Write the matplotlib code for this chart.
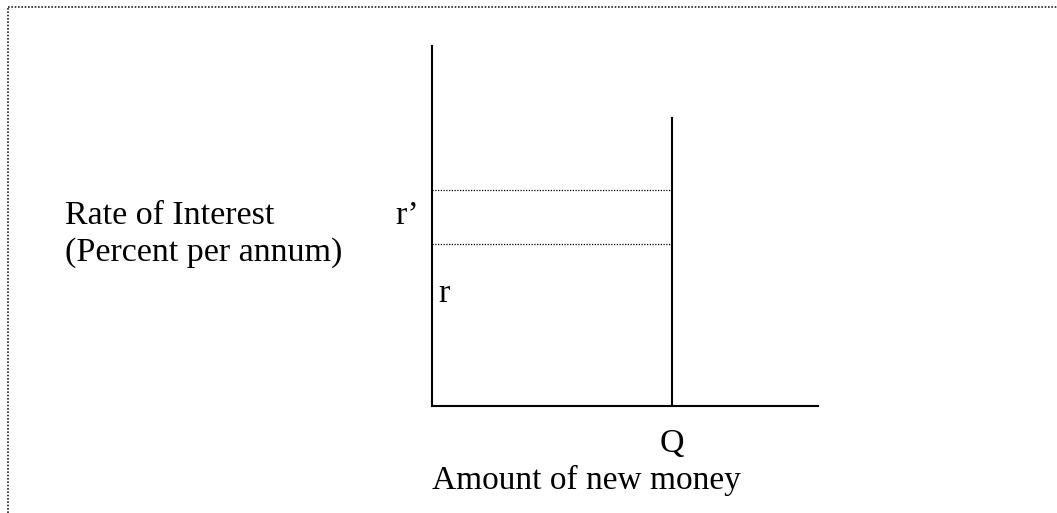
import matplotlib
matplotlib.use("Agg")
import matplotlib.pyplot as plt
from matplotlib.lines import Line2D

# diagram values (data units, origin at the axes corner)
y_axis_top = 10.0
x_axis_end = 10.72
Q = 6.67
supply_top = 8.0
r_prime = 6.0
r_level = 4.5
labels = {"y1": "Rate of Interest", "y2": "(Percent per annum)", "x": "Amount of new money",
          "q": "Q", "r": "r", "rp": "r\u2019"}

W, H, dpi = 1057, 513, 100
scale = 36.0  # px per unit
ox, oy = 432, 406  # pixel position of origin

plt.rcParams['font.family'] = ['Liberation Serif', 'DejaVu Serif']
fig = plt.figure(figsize=(W / dpi, H / dpi), dpi=dpi)
ax = fig.add_axes([0, 0, 1, 1])
ax.set_xlim(-ox / scale, (W - ox) / scale)
ax.set_ylim(-(H - oy) / scale, oy / scale)
ax.axis('off')

# axes of the diagram
ax.plot([0, 0], [0, y_axis_top], color='black', lw=1.5)
ax.plot([0, x_axis_end], [0, 0], color='black', lw=1.5)
# vertical supply of new money at Q
ax.plot([Q, Q], [0, supply_top], color='black', lw=1.5)
# dotted levels
for lvl in [r_prime, r_level]:
    ax.plot([0, Q], [lvl, lvl], color='black', lw=0.9, ls=(0, (1, 1.2)))

fs = 24.5
ax.text(-10.19, 5.05, labels["y1"], fontsize=fs, ha='left', va='baseline')
ax.text(-10.19, 4.03, labels["y2"], fontsize=fs, ha='left', va='baseline')
ax.text(-37 / scale, 5.05, labels["rp"], fontsize=fs, ha='left', va='baseline')
ax.text(6 / scale, 2.9, labels["r"], fontsize=fs, ha='left', va='baseline')
ax.text(Q, -1.27, labels["q"], fontsize=fs, ha='center', va='baseline')
ax.text(0, -2.3, labels["x"], fontsize=24, ha='left', va='baseline')

# dotted page border (top and left only visible)
fig.add_artist(Line2D([8 / W, 1], [1 - 7 / H, 1 - 7 / H], transform=fig.transFigure,
                      color='#222222', lw=1.2, ls=(0, (1, 1))))
fig.add_artist(Line2D([8 / W, 8 / W], [0, 1 - 7 / H], transform=fig.transFigure,
                      color='#222222', lw=1.2, ls=(0, (1, 1))))

fig.savefig("out.png", dpi=dpi)
